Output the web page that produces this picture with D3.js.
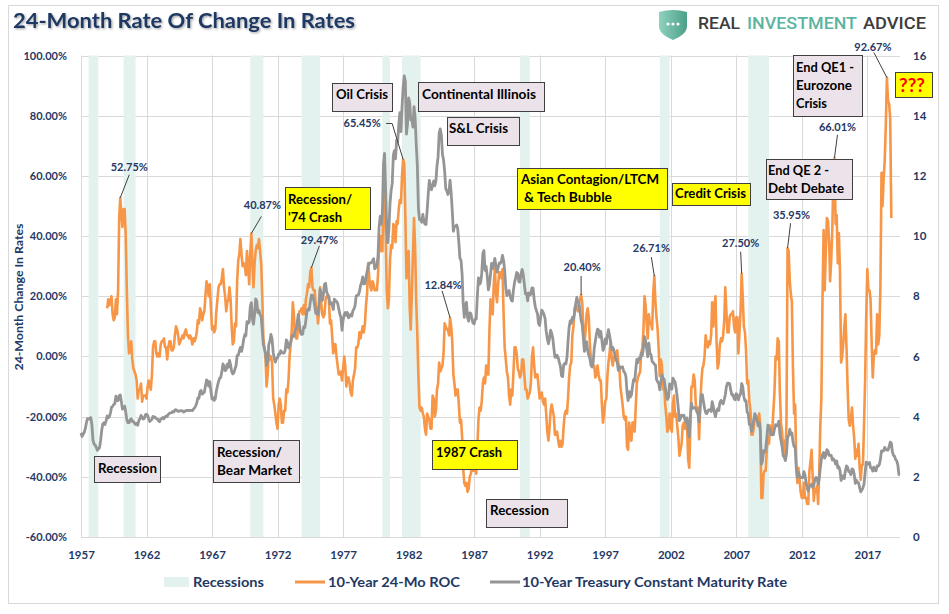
<!DOCTYPE html>
<html><head><meta charset="utf-8">
<script src="https://cdn.jsdelivr.net/npm/d3@7"></script>
<style>
body{margin:0;background:#fff;}
svg{display:block;font-family:Lato,'Open Sans',sans-serif;}
</style>
</head><body>
<svg id="c" width="949" height="614"></svg>
<script>
// ---------------- DATA ----------------
// 10-Year Treasury Constant Maturity Rate, monthly, from Jan 1957
const treasuryStart = "1957-01";
const treasury10y = [
 3.46,3.34,3.41,3.48,3.60,3.80,3.93,3.93,3.92,3.97,3.72,3.21,
 3.09,3.05,2.98,2.88,2.92,2.97,3.20,3.54,3.76,3.80,3.74,3.86,
 4.02,3.96,3.99,4.12,4.31,4.34,4.40,4.43,4.68,4.53,4.53,4.69,
 4.72,4.49,4.25,4.28,4.35,4.15,3.90,3.80,3.80,3.89,3.93,3.84,
 3.84,3.78,3.74,3.78,3.71,3.88,3.92,4.04,3.98,3.92,3.94,4.06,
 4.08,4.04,3.93,3.84,3.87,3.91,4.01,3.98,3.98,3.93,3.92,3.86,
 3.83,3.92,3.93,3.97,3.93,3.99,4.02,4.00,4.08,4.11,4.12,4.13,
 4.17,4.15,4.22,4.23,4.20,4.17,4.19,4.19,4.20,4.19,4.15,4.18,
 4.19,4.21,4.21,4.20,4.21,4.21,4.20,4.25,4.29,4.35,4.45,4.62,
 4.61,4.83,4.87,4.75,4.78,4.81,5.02,5.22,5.18,5.01,5.16,4.84,
 4.58,4.63,4.54,4.59,4.85,5.02,5.16,5.28,5.30,5.48,5.75,5.70,
 5.53,5.56,5.74,5.64,5.87,5.72,5.50,5.42,5.46,5.58,5.70,6.03,
 6.04,6.19,6.30,6.17,6.32,6.57,6.72,6.69,7.16,7.10,7.14,7.65,
 7.79,7.24,7.07,7.39,7.91,7.84,7.46,7.53,7.39,7.33,6.84,6.39,
 6.24,6.11,5.70,5.83,6.39,6.52,6.73,6.58,6.14,5.93,5.81,5.93,
 5.95,6.08,6.07,6.19,6.13,6.11,6.11,6.21,6.55,6.48,6.28,6.36,
 6.46,6.64,6.71,6.67,6.85,6.90,7.13,7.40,7.09,6.79,6.73,6.74,
 6.99,6.96,7.21,7.51,7.58,7.54,7.81,8.04,8.04,7.90,7.68,7.43,
 7.50,7.39,7.73,8.23,8.06,7.86,8.06,8.40,8.43,8.14,8.05,8.00,
 7.74,7.79,7.73,7.56,7.90,7.86,7.83,7.77,7.59,7.41,7.29,6.87,
 7.21,7.39,7.46,7.37,7.46,7.28,7.33,7.40,7.34,7.52,7.58,7.69,
 8.01,8.03,8.04,8.15,8.35,8.46,8.64,8.41,8.42,8.64,8.81,9.01,
 9.10,9.10,9.12,9.18,9.25,8.91,8.95,9.03,9.33,10.30,10.65,10.39,
 10.80,12.41,12.75,11.47,10.18,9.78,10.25,11.10,11.51,11.75,12.68,12.84,
 12.57,13.19,13.12,13.68,14.10,13.47,14.28,14.94,15.32,15.15,13.39,13.72,
 14.59,14.43,13.86,13.87,13.62,14.30,13.95,13.06,12.34,10.91,10.55,10.54,
 10.46,10.72,10.51,10.40,10.38,10.85,11.38,11.85,11.65,11.54,11.69,11.83,
 11.67,11.84,12.32,12.63,13.41,13.56,13.36,12.72,12.52,12.16,11.57,11.50,
 11.38,11.51,11.86,11.43,10.85,10.16,10.31,10.33,10.37,10.24,9.78,9.26,
 9.19,8.70,7.78,7.30,7.71,7.80,7.30,7.17,7.45,7.43,7.25,7.11,
 7.08,7.25,7.25,8.02,8.61,8.40,8.45,8.76,9.42,9.52,8.86,8.99,
 8.67,8.21,8.37,8.72,9.09,8.92,9.06,9.26,8.98,8.80,8.96,9.11,
 9.09,9.17,9.36,9.18,8.86,8.28,8.02,8.11,8.19,8.01,7.87,7.84,
 8.21,8.47,8.59,8.79,8.76,8.48,8.47,8.75,8.89,8.72,8.39,8.08,
 8.09,7.85,8.11,8.04,8.07,8.28,8.27,7.90,7.65,7.53,7.42,7.09,
 7.03,7.34,7.54,7.48,7.39,7.26,6.84,6.59,6.42,6.59,6.87,6.77,
 6.60,6.26,5.98,5.97,6.04,5.96,5.81,5.68,5.36,5.33,5.72,5.77,
 5.75,5.97,6.48,6.97,7.18,7.10,7.30,7.24,7.46,7.74,7.96,7.81,
 7.78,7.47,7.20,7.06,6.63,6.17,6.28,6.49,6.20,6.04,5.93,5.71,
 5.65,5.81,6.27,6.51,6.74,6.91,6.87,6.64,6.83,6.53,6.20,6.30,
 6.58,6.42,6.69,6.89,6.71,6.49,6.22,6.30,6.21,6.03,5.88,5.81,
 5.54,5.57,5.65,5.64,5.65,5.50,5.46,5.34,4.81,4.53,4.83,4.65,
 4.72,5.00,5.23,5.18,5.54,5.90,5.79,5.94,5.92,6.11,6.03,6.28,
 6.66,6.52,6.26,5.99,6.44,6.10,6.05,5.83,5.80,5.74,5.72,5.24,
 5.16,5.10,4.89,5.14,5.39,5.28,5.24,4.97,4.73,4.57,4.65,5.09,
 5.04,4.91,5.28,5.21,5.16,4.93,4.65,4.26,3.87,3.94,4.05,4.03,
 4.05,3.90,3.81,3.96,3.57,3.33,3.98,4.45,4.27,4.29,4.30,4.27,
 4.15,4.08,3.83,4.35,4.72,4.73,4.50,4.28,4.13,4.10,4.19,4.23,
 4.22,4.17,4.50,4.34,4.14,4.00,4.18,4.26,4.20,4.46,4.54,4.47,
 4.42,4.57,4.72,4.99,5.11,5.11,5.09,4.88,4.72,4.73,4.60,4.56,
 4.76,4.72,4.56,4.69,4.75,5.10,5.00,4.67,4.52,4.53,4.15,4.10,
 3.74,3.74,3.51,3.68,3.88,4.10,4.01,3.89,3.69,3.81,3.53,2.42,
 2.52,2.87,2.82,2.93,3.29,3.72,3.56,3.59,3.40,3.39,3.40,3.59,
 3.73,3.69,3.73,3.85,3.42,3.20,3.01,2.70,2.65,2.54,2.76,3.29,
 3.39,3.58,3.41,3.46,3.17,3.00,3.00,2.30,1.98,2.15,2.01,1.98,
 1.97,1.97,2.17,2.05,1.80,1.62,1.53,1.68,1.72,1.75,1.65,1.72,
 1.91,1.98,1.96,1.76,1.93,2.30,2.58,2.74,2.81,2.62,2.72,2.90,
 2.86,2.71,2.72,2.71,2.56,2.60,2.54,2.42,2.53,2.30,2.33,2.21,
 1.88,1.98,2.04,1.94,2.20,2.36,2.32,2.17,2.17,2.07,2.26,2.24,
 2.09,1.78,1.89,1.81,1.81,1.64,1.50,1.56,1.63,1.76,2.14,2.49,
 2.43,2.42,2.48,2.30,2.30,2.19,2.32,2.21,2.20,2.36,2.35,2.40,
 2.58,2.86,2.84,2.87,2.98,2.91,2.89,2.89,3.00,3.15,3.12,2.83,
 2.71,2.68,2.57,2.53,2.40,2.07,2.06
];

// 10-Year 24-Month Rate of Change (%), monthly, from Jan 1959
const rocStart = "1959-01";
const roc24 = [
 16,19,17,18,20,14,12,13,19,14,22,46,
 52.75,47,43,49,49,40,22,7,1,2,5,-1,
 -4,-5,-6,-8,-14,-11,-11,-9,-15,-13,-13,-13,
 -14,-10,-8,-10,-11,-6,3,5,5,1,0,1,
 0,4,5,5,6,3,3,-1,3,5,5,2,
 2,3,7,10,9,7,4,5,6,7,6,8,
 9,7,7,6,7,6,4,6,5,6,8,12,
 11,16,15,12,14,15,20,25,23,20,24,16,
 9,10,8,9,15,19,23,24,24,26,29,23,
 20,15,18,19,23,19,10,4,5,11,10,25,
 32,34,39,34,30,31,30,27,35,30,24,34,
 40.87,30,23,31,35,37,36,39,35,31,20,6,
 3,-1,-10,-6,1,-1,0,-2,-14,-16,-19,-22,
 -24,-16,-14,-16,-22,-22,-18,-18,-11,-12,-8,0,
 4,9,18,14,7,6,6,12,15,15,16,14,
 17,14,19,21,24,23,28,29.47,23,22,22,17,
 16,11,15,23,18,14,13,14,19,20,20,19,
 11,12,7,1,4,4,0,-3,-6,-6,-5,-8,
 -4,0,-3,-10,-7,-7,-9,-12,-13,-8,-6,-4,
 3,3,4,8,6,8,10,8,11,17,21,31,
 26,23,22,25,24,22,22,22,27,37,40,35,
 35,55,59,41,22,16,19,32,37,36,44,43,
 38,45,44,49,52,51,60,65.45,64,47,26,32,
 35,16,9,21,34,46,36,18,7,-7,-17,-18,
 -17,-19,-20,-24,-26,-19,-20,-21,-24,-24,-13,-14,
 -20,-18,-11,-9,-2,-5,-4,-3,1,11,10,9,
 9,7,12.84,10,5,-6,-9,-13,-11,-11,-16,-22,
 -21,-27,-37,-42,-43,-42,-45,-44,-40,-39,-37,-38,
 -38,-37,-39,-30,-21,-17,-18,-15,-9,-7,-9,-3,
 -6,-6,8,19,18,14,24,29,21,18,24,28,
 28,26,29,14,3,-1,-5,-7,-13,-16,-11,-13,
 -5,3,3,1,-4,-5,-7,-6,-1,-1,-6,-11,
 -11,-14,-13,-12,-9,0,3,-3,-7,-6,-6,-10,
 -14,-13,-12,-15,-16,-14,-19,-25,-28,-24,-18,-16,
 -18,-20,-26,-26,-25,-28,-30,-28,-30,-29,-23,-19,
 -18,-19,-14,-7,-3,-2,7,10,16,17,16,15,
 18,19,20.40,18,10,4,8,14,16,13,4,-1,
 -2,-3,-3,-7,-6,-3,-6,-8,-8,-16,-22,-19,
 -15,-14,-7,-2,1,5,-1,-3,0,0,-1,2,
 -2,-4,-10,-13,-16,-20,-21,-20,-30,-31,-22,-26,
 -28,-22,-22,-25,-17,-9,-7,-6,-5,1,3,8,
 20,17,11,6,14,11,11,9,21,26.71,18,13,
 9,2,-6.5,-1,-3,-11,-9.5,-16,-20,-25,-23,-19,
 -24,-25,-16,-13,-20,-19,-23,-27,-33,-31,-29,-23,
 -22,-24,-22,-23,-34,-37,-24,-10,-10,-6,-8,-16,
 -18,-17,-27.5,-17,-9,-4,-3,0,7,4,3,5,
 4,7,18,10,16,20,5,-4,-2,4,6,5,
 7,12,23,15,8,8,13,14,14,15,10,8,
 13,13,1,8,15,27.50,20,10,8,2,-9,-8,
 -15,-18,-26,-26,-24,-20,-21,-20,-22,-19,-23,-47,
 -47,-39,-38,-38,-31,-27,-29,-23,-25,-25,-18,-12,
 0,-1,6,5,-12,-22,-25,-31,-28,-33,-22,35.95,
 35,25,21,18,-4,-19,-16,-36,-42,-37,-41,-45,
 -47,-47,-42,-47,-47,-49,-49,-38,-35,-31,-40,-48,
 -44,-45,-43,-49,-39,-23,-14,19,42,22,35,46,
 45,38,25,32,42,60,66.01,44,47,31,41,28,
 -2,0,4,10,14,3,-10,-21,-23,-21,-17,-23,
 -27,-34,-31,-33,-29,-37,-41,-36,-36,-23,-8,13,
 29,22,22,19,5,-7,0,2,1,14,4,7,
 23,61,50,59,65,77,92.67,85,84,79,46
];

// NBER recessions (first month, last month)
const recessions = [
 ["1957-08","1958-04"],["1960-04","1961-02"],["1969-12","1970-11"],
 ["1973-11","1975-03"],["1980-01","1980-07"],["1981-07","1982-11"],
 ["1990-07","1991-03"],["2001-03","2001-11"],["2007-12","2009-06"]
];

const leftTicks = [-60,-40,-20,0,20,40,60,80,100];
const rightTicks = [0,2,4,6,8,10,12,14,16];
const yearTicks = [1957,1962,1967,1972,1977,1982,1987,1992,1997,2002,2007,2012,2017];
const legendLabels = ["Recessions","10-Year 24-Mo ROC","10-Year Treasury Constant Maturity Rate"];
const titleText = "24-Month Rate Of Change In Rates";
const leftAxisTitle = "24-Month Change In Rates";

// peak call-outs on the ROC series
const peakMonths = ["1960-01","1970-01","1974-08","1981-08","1985-03","1995-03","2000-10","2007-06","2010-12","2014-07","2018-07"];
const peakTexts  = ["52.75%","40.87%","29.47%","65.45%","12.84%","20.40%","26.71%","27.50%","35.95%","66.01%","92.67%"];

// event notes
const noteTexts = [
 ["Oil Crisis"],["Continental Illinois"],["S&L Crisis"],["Recession/","'74 Crash"],
 ["Asian Contagion/LTCM","& Tech Bubble"],["Credit Crisis"],["End QE 2 -","Debt Debate"],
 ["End QE1 -","Eurozone","Crisis"],["???"],["Recession"],["Recession/","Bear Market"],
 ["1987 Crash"],["Recession"]
];

// ---------------- LAYOUT / STYLE ----------------
const P = {left:81, right:900, top:55.5, bottom:537};
const C = {navy:"#1f3864", orange:"#f79646", gray:"#959595", band:"#e3f2ee", grid:"#d9d9d9",
           lav:"#ece3ea", yellow:"#ffff00", box:"#404040"};
// offsets of label centre and leader start relative to peak point
const peakLayout = [
 {tx:9,ty:-31,pts:[[9,-23]]},{tx:11,ty:-28,pts:[[10,-17]]},{tx:8,ty:-28,pts:[[8,-22]]},
 {tx:-41,ty:-36,pts:[[-17,-36],[-11,-36]]},{tx:-7,ty:-33,pts:[[-8,-27]]},{tx:1,ty:-28,pts:[[0,-19]]},
 {tx:-3,ty:-28,pts:[[-3,-19]]},{tx:-1,ty:-31,pts:[[-1,-22]]},{tx:4,ty:-33,pts:[[3,-25]]},
 {tx:3,ty:-31,pts:[[3,-23]]},{tx:-14,ty:-31,pts:[[-13,-25]]}
];
const noteLayout = [
 {box:[332,83,60,28],fill:"lav",x:[336],y:[99],w:[52]},
 {box:[418,82,126,29],fill:"lav",x:[422],y:[99],w:[114]},
 {box:[447,117,72,28],fill:"lav",x:[449],y:[133],w:[59]},
 {box:[285,187,85,42],fill:"yellow",x:[288,288],y:[204,222],w:[64,54]},
 {box:[517,168,150,41],fill:"yellow",x:[521,524],y:[184,202],w:[138,88]},
 {box:[672,183,78,22],fill:"yellow",x:[675],y:[198],w:[71]},
 {box:[766,159,86,40],fill:"lav",x:[768,768],y:[175,193],w:[61,76]},
 {box:[793,55,69,61],fill:"lav",x:[796,796,796],y:[72,90,108],w:[58,56,31]},
 {box:[895,72,37,25],fill:"yellow",x:[899],y:[92],w:[26],red:true},
 {box:[94,456,66,26],fill:"lav",x:[98],y:[473],w:[59]},
 {box:[213,440,86,42],fill:"lav",x:[217,217],y:[457,475],w:[65,75]},
 {box:[432,440,85,29],fill:"yellow",x:[436],y:[457],w:[66]},
 {box:[486,499,81,28],fill:"lav",x:[490],y:[515],w:[59]}
];

// ---------------- DRAW ----------------
const svg = d3.select("#c");
const parseM = d3.timeParse("%Y-%m");
const t0 = parseM(treasuryStart), r0 = parseM(rocStart);
const grayData = treasury10y.map((v,i)=>({d:d3.timeMonth.offset(t0,i), v}));
const rocData  = roc24.map((v,i)=>({d:d3.timeMonth.offset(r0,i), v}));

const x  = d3.scaleTime().domain([t0, grayData[grayData.length-1].d]).range([P.left,P.right]);
const yL = d3.scaleLinear().domain([-60,100]).range([P.bottom,P.top]);
const yR = d3.scaleLinear().domain([0,16]).range([P.bottom,P.top]);

const defs = svg.append("defs");
const sh = defs.append("filter").attr("id","tsh").attr("x","-5%").attr("y","-20%").attr("width","115%").attr("height","160%");
sh.append("feDropShadow").attr("dx",1.2).attr("dy",1.2).attr("stdDeviation",0.9).attr("flood-color","#000").attr("flood-opacity",0.35);
const lg = defs.append("linearGradient").attr("id","shieldG").attr("x1","0").attr("x2","1");
lg.append("stop").attr("offset","0").attr("stop-color","#8ed2bf");
lg.append("stop").attr("offset","1").attr("stop-color","#4c9f88");

// outer frame
svg.append("rect").attr("x",8.5).attr("y",5.5).attr("width",930).attr("height",598)
  .attr("fill","#fff").attr("stroke","#d9d9d9");

function fitText(sel, w){ sel.attr("textLength",w).attr("lengthAdjust","spacingAndGlyphs"); }

// title
fitText(svg.append("text").attr("x",13).attr("y",28).attr("font-size",21).attr("font-weight",700)
  .attr("fill",C.navy).attr("filter","url(#tsh)").text(titleText), 342);

// logo
const logo = svg.append("g").attr("transform","translate(659,9)");
logo.append("path").attr("d","M0,3 Q14,-1 28,3 L28,17 C28,24 21,28 14,31 C7,28 0,24 0,17 Z").attr("fill","url(#shieldG)");
[9,14,19].forEach(cx=>logo.append("circle").attr("cx",cx).attr("cy",15).attr("r",1.6).attr("fill","#fff"));
[["REAL",698,42,"#3c3c3c"],["INVESTMENT",747,110,"#5bb5a2"],["ADVICE",863,63,"#3c3c3c"]].forEach(([t,lx,w,col])=>{
  fitText(svg.append("text").attr("x",lx).attr("y",29).attr("font-family","Roboto,sans-serif")
    .attr("font-size",16).attr("font-weight",500).attr("fill",col).text(t), w);
});

// gridlines
const grid = svg.append("g");
grid.selectAll("line.h").data(leftTicks).join("line")
  .attr("x1",P.left).attr("x2",P.right).attr("y1",d=>Math.round(yL(d))+0.5).attr("y2",d=>Math.round(yL(d))+0.5)
  .attr("stroke",C.grid);
grid.selectAll("line.v").data(yearTicks).join("line")
  .attr("x1",d=>Math.round(x(new Date(d,0,1)))+0.5).attr("x2",d=>Math.round(x(new Date(d,0,1)))+0.5)
  .attr("y1",P.top).attr("y2",P.bottom).attr("stroke",C.grid);

// recession bands
svg.append("g").selectAll("rect").data(recessions).join("rect")
  .attr("x",d=>x(parseM(d[0])))
  .attr("width",d=>x(d3.timeMonth.offset(parseM(d[1]),1))-x(parseM(d[0])))
  .attr("y",P.top).attr("height",P.bottom-P.top).attr("fill",C.band);

// series
svg.append("path").datum(rocData)
  .attr("d",d3.line().x(d=>x(d.d)).y(d=>yL(d.v)))
  .attr("fill","none").attr("stroke",C.orange).attr("stroke-width",2.6).attr("stroke-linejoin","round");
svg.append("path").datum(grayData)
  .attr("d",d3.line().x(d=>x(d.d)).y(d=>yR(d.v)))
  .attr("fill","none").attr("stroke",C.gray).attr("stroke-width",2.8).attr("stroke-linejoin","round");

// axes
function styleAxis(g){
  g.select(".domain").remove();
  g.selectAll(".tick line").remove();
  g.selectAll("text").attr("font-family","Lato,sans-serif").attr("font-weight",700).attr("fill",C.navy);
}
svg.append("g").attr("transform",`translate(${P.left},0)`)
  .call(d3.axisLeft(yL).tickValues(leftTicks).tickSize(0).tickPadding(14).tickFormat(d=>d.toFixed(2)+"%"))
  .attr("font-size",11).call(styleAxis);
svg.append("g").attr("transform",`translate(${P.right},0)`)
  .call(d3.axisRight(yR).tickValues(rightTicks).tickSize(0).tickPadding(13).tickFormat(d3.format("d")))
  .attr("font-size",11.5).call(styleAxis);
svg.append("g").attr("transform",`translate(0,${P.bottom})`)
  .call(d3.axisBottom(x).tickValues(yearTicks.map(y=>new Date(y,0,1))).tickSize(0).tickPadding(14).tickFormat(d3.timeFormat("%Y")))
  .attr("font-size",11.5).call(styleAxis);

// left axis title
fitText(svg.append("text").attr("transform","translate(23,297) rotate(-90)").attr("text-anchor","middle")
  .attr("font-size",11).attr("font-weight",700).attr("fill",C.navy).text(leftAxisTitle), 147);

// peak labels
const pk = svg.append("g");
peakMonths.forEach((m,i)=>{
  const d = parseM(m);
  const rec = rocData.find(r=>+r.d===+d);
  const px = x(d), py = yL(rec.v), L = peakLayout[i];
  const pts = L.pts.map(p=>[px+p[0],py+p[1]]).concat([[px,py]]);
  pk.append("path").attr("d",d3.line()(pts)).attr("fill","none").attr("stroke","#404040").attr("stroke-width",1);
  pk.append("text").attr("x",px+L.tx).attr("y",py+L.ty+4).attr("text-anchor","middle")
    .attr("font-size",11).attr("font-weight",700).attr("fill",C.navy).text(peakTexts[i]);
});

// notes
const nt = svg.append("g");
noteTexts.forEach((lines,i)=>{
  const L = noteLayout[i];
  nt.append("rect").attr("x",L.box[0]+0.5).attr("y",L.box[1]+0.5).attr("width",L.box[2]).attr("height",L.box[3])
    .attr("fill",C[L.fill]).attr("stroke",C.box).attr("stroke-width",1);
  lines.forEach((t,j)=>{
    fitText(nt.append("text").attr("x",L.x[j]).attr("y",L.y[j])
      .attr("font-size",L.red?19:14).attr("font-weight",700).attr("fill",L.red?"#ff0000":"#000").text(t), L.w[j]);
  });
});

// legend
const lgd = svg.append("g").attr("font-size",14).attr("font-weight",700).attr("fill",C.navy);
lgd.append("rect").attr("x",164).attr("y",577).attr("width",25).attr("height",10).attr("fill",C.band);
fitText(lgd.append("text").attr("x",193).attr("y",587).text(legendLabels[0]),71);
lgd.append("line").attr("x1",295).attr("x2",325).attr("y1",582).attr("y2",582).attr("stroke",C.orange).attr("stroke-width",3);
fitText(lgd.append("text").attr("x",328).attr("y",587).text(legendLabels[1]),132);
lgd.append("line").attr("x1",490).attr("x2",520).attr("y1",582).attr("y2",582).attr("stroke",C.gray).attr("stroke-width",3);
fitText(lgd.append("text").attr("x",522).attr("y",587).text(legendLabels[2]),265);
</script>
</body></html>
